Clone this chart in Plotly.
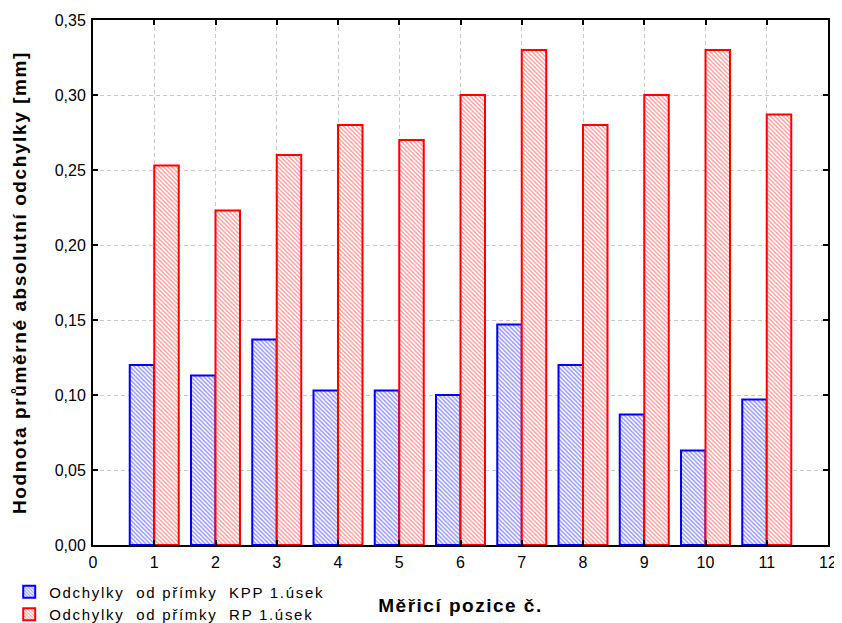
import plotly.graph_objects as go

positions = [1, 2, 3, 4, 5, 6, 7, 8, 9, 10, 11]
kpp = [0.120, 0.113, 0.137, 0.103, 0.103, 0.100, 0.147, 0.120, 0.087, 0.063, 0.097]
rp = [0.253, 0.223, 0.260, 0.280, 0.270, 0.300, 0.330, 0.280, 0.300, 0.330, 0.287]
name_kpp = "Odchylky  od přímky  KPP 1.úsek"
name_rp = "Odchylky  od přímky  RP 1.úsek"
x_title = "Měřicí pozice č."
y_title = "Hodnota průměrné absolutní odchylky [mm]"


def spaced(text, ls):
    return '<span style="letter-spacing:%spx">%s</span>' % (ls, text)


fig = go.Figure()
fig.add_trace(go.Bar(
    x=positions, y=kpp, name=spaced(name_kpp, 1.7),
    marker=dict(color="white", line=dict(color="#0000ff", width=2),
                pattern=dict(shape="\\", fgcolor="#3030ff", bgcolor="white", size=3, solidity=0.5)),
))
fig.add_trace(go.Bar(
    x=positions, y=rp, name=spaced(name_rp, 1.7),
    marker=dict(color="white", line=dict(color="#ff0000", width=2),
                pattern=dict(shape="\\", fgcolor="#ff2020", bgcolor="white", size=3, solidity=0.42)),
))

axis_common = dict(
    showline=True, linecolor="black", linewidth=2, mirror="ticks",
    ticks="inside", ticklen=5, tickwidth=2, tickcolor="black",
    showgrid=True, gridcolor="#c8c8c8", griddash="4px,3px", gridwidth=1,
    zeroline=False, automargin=False,
    tickfont=dict(family="Liberation Sans, Arial", size=16, color="black"),
)

fig.update_layout(
    width=834, height=615,
    margin=dict(l=85, r=14, t=12, b=78, autoexpand=False),
    paper_bgcolor="white", plot_bgcolor="white",
    barmode="group", bargap=0.2, bargroupgap=0,
    separators=", ",
    font=dict(family="Liberation Sans, Arial", color="black"),
    xaxis=dict(range=[0, 12], dtick=1, tick0=0, ticklabelstandoff=2,
               title=dict(text="<b>" + spaced(x_title, 1.5) + "</b>", font=dict(size=19), standoff=28),
               **axis_common),
    yaxis=dict(range=[0, 0.35], dtick=0.05, tickformat=".2f", ticklabelstandoff=2,
               title=dict(text="<b>" + spaced(y_title, 1.6) + "</b>", font=dict(size=19), standoff=23),
               **axis_common),
    legend=dict(x=-0.114, y=-0.058, xanchor="left", yanchor="top",
                font=dict(size=15), bgcolor="rgba(0,0,0,0)", tracegroupgap=0, itemwidth=30),
    showlegend=True,
)

fig.write_html("out.html")
